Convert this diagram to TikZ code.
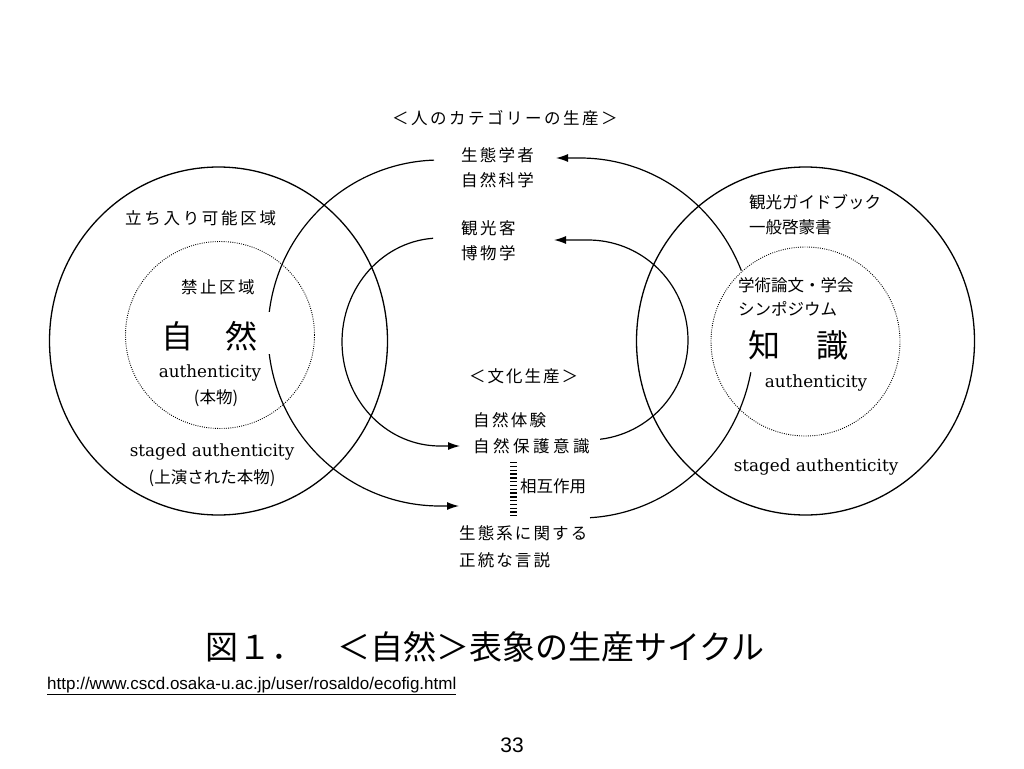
\documentclass[tikz,border=0pt]{standalone}
\usepackage{fontspec}
\newfontfamily\jp{Noto Sans CJK JP}
\newfontfamily\sansurl{Liberation Sans}
\newfontfamily\serifauth{DejaVu Serif}
\usetikzlibrary{arrows.meta,calc}
\makeatletter
\def\jlet#1#2{\def\jl@pitch{#1}\jl@loop#2\jl@end}
\def\jl@loop#1{\ifx#1\jl@end\else\makebox[\jl@pitch][l]{#1}\expandafter\jl@loop\fi}
\makeatother
\begin{document}
\begin{tikzpicture}[x=1pt,y=-1pt,
  ring/.style={line width=1.3pt},
  dotring/.style={line width=0.9pt, dash pattern=on 0.9pt off 1.3pt},
  conn/.style={line width=1.2pt},
  tip/.style={-{Latex[length=12pt,width=8pt]}},
  lbl/.style={inner sep=0pt, anchor=west, font=\jp\fontsize{16.5}{20}\selectfont},
  big/.style={inner sep=0pt, anchor=west, font=\jp\fontsize{32}{36}\selectfont},
  lat/.style={inner sep=0pt, font=\serifauth\fontsize{16.8}{20}\selectfont}]
\useasboundingbox (0,0) rectangle (1024,768);
\fill[white] (0,0) rectangle (1024,768);

% circles
\coordinate (cL) at (218.5,341);
\coordinate (cR) at (805.5,341);
\draw[ring] (cL) ellipse [x radius=169, y radius=174];
\draw[ring] (cR) ellipse [x radius=169, y radius=174];
\draw[dotring] (220,335) coordinate (dL) ellipse [x radius=94.5, y radius=93.5];
\draw[dotring] (805.5,341.5) coordinate (dR) ellipse [x radius=94.5, y radius=94.5];

% texts middle
\node[lbl] (cat) at (392,118) {\jlet{19pt}{＜人のカテゴリーの生産＞}};
\node[lbl] (seitai) at (461,155) {\jlet{18.7pt}{生態学者}};
\node[lbl] (shizenkagaku) at (461,180) {\jlet{18.7pt}{自然科学}};
\node[lbl] (kanko) at (461,228) {\jlet{19pt}{観光客}};
\node[lbl] (hakubutsu) at (461,253) {\jlet{19pt}{博物学}};
\node[lbl] (bunka) at (469,376) {\jlet{18.5pt}{＜文化生産＞}};
\node[lbl] (taiken) at (473,420) {\jlet{18.8pt}{自然体験}};
\node[lbl] (hogo) at (473,446) {\jlet{20pt}{自然保護意識}};
\node[lbl] (sogo) at (520,486) {相互作用};
\node[lbl] (seitaikei) at (459,533) {\jlet{18.6pt}{生態系に関する}};
\node[lbl] (seito) at (459,560) {\jlet{18.6pt}{正統な言説}};

% texts left
\node[lbl] (tachiiri) at (125,218) {\jlet{19.2pt}{立ち入り可能区域}};
\node[lbl] (kinshi) at (181,287) {\jlet{19pt}{禁止区域}};
\node[big] (shizen) at (161,336) {\jlet{32pt}{自　然}};
\node[lat] (authL) at (210,373) {authenticity};
\node[lbl,anchor=center] (honmono) at (216,398) {(本物)};
\node[lat] (stagedL) at (212,452) {staged authenticity};
\node[lbl,anchor=center] (joen) at (212,478) {(上演された本物)};

% texts right
\node[lbl] (guide) at (749,202) {観光ガイドブック};
\node[lbl] (ippan) at (749,227) {一般啓蒙書};
\node[lbl] (gakujutsu) at (738,285) {学術論文・学会};
\node[lbl] (sympo) at (738,309) {シンポジウム};
\node[big] (chishiki) at (748,345) {\jlet{34pt}{知　識}};
\node[lat] (authR) at (816,383) {authenticity};
\node[lat] (stagedR) at (816,467) {staged authenticity};

% caption, url, page
\node[inner sep=0pt, anchor=west, font=\jp\fontsize{33}{36}\selectfont] (caption) at (205,647) {図１．　＜自然＞表象の生産サイクル};
\node[inner sep=0pt, anchor=west, font=\sansurl\fontsize{17}{20}\selectfont] (url) at (47,686) {\underline{http://www.cscd.osaka-u.ac.jp/user/rosaldo/ecofig.html}};
\node[inner sep=0pt, font=\sansurl\fontsize{21}{24}\selectfont] (page) at (512,745) {33};

% interaction ladder
\coordinate (l1) at (513,462);
\coordinate (l2) at (513,516);
\draw[line width=7pt, dash pattern=on 1.3pt off 2.5pt] (l1) -- (l2);

% arc 1: seitai -> seitaikei (outer left)
\coordinate (c1) at (440,333);
\draw[conn] ($(c1)+(268:172 and 173)$) coordinate (a1s) arc[start angle=268, end angle=187, x radius=172, y radius=173];
\draw[conn,tip] ($(c1)+(173:172 and 173)$) arc[start angle=173, end angle=90, x radius=172, y radius=173] -- (459,506) coordinate (a1e);

% arc 2: kanko -> hogo (inner left)
\coordinate (c2) at (440,342);
\draw[conn,tip] ($(c2)+(266:98 and 104)$) coordinate (a2s) arc[start angle=266, end angle=90, x radius=98, y radius=104] -- (460,446) coordinate (a2e);

% arc 3: seitaikei -> seitai (outer right)
\coordinate (c3) at (580,338);
\draw[conn] ($(c3)+(86.7:174 and 180)$) coordinate (a3s) arc[start angle=86.7, end angle=11, x radius=174, y radius=180];
\draw[conn,tip] ($(c3)+(-22:174 and 180)$) arc[start angle=-22, end angle=-90, x radius=174, y radius=180] -- (556,158) coordinate (a3e);

% arc 4: hogo -> kanko (inner right)
\coordinate (c4) at (588,340);
\draw[conn,tip] ($(c4)+(83:100 and 100)$) coordinate (a4s) arc[start angle=83, end angle=-90, x radius=100, y radius=100] -- (554,240) coordinate (a4e);
\end{tikzpicture}
\end{document}
